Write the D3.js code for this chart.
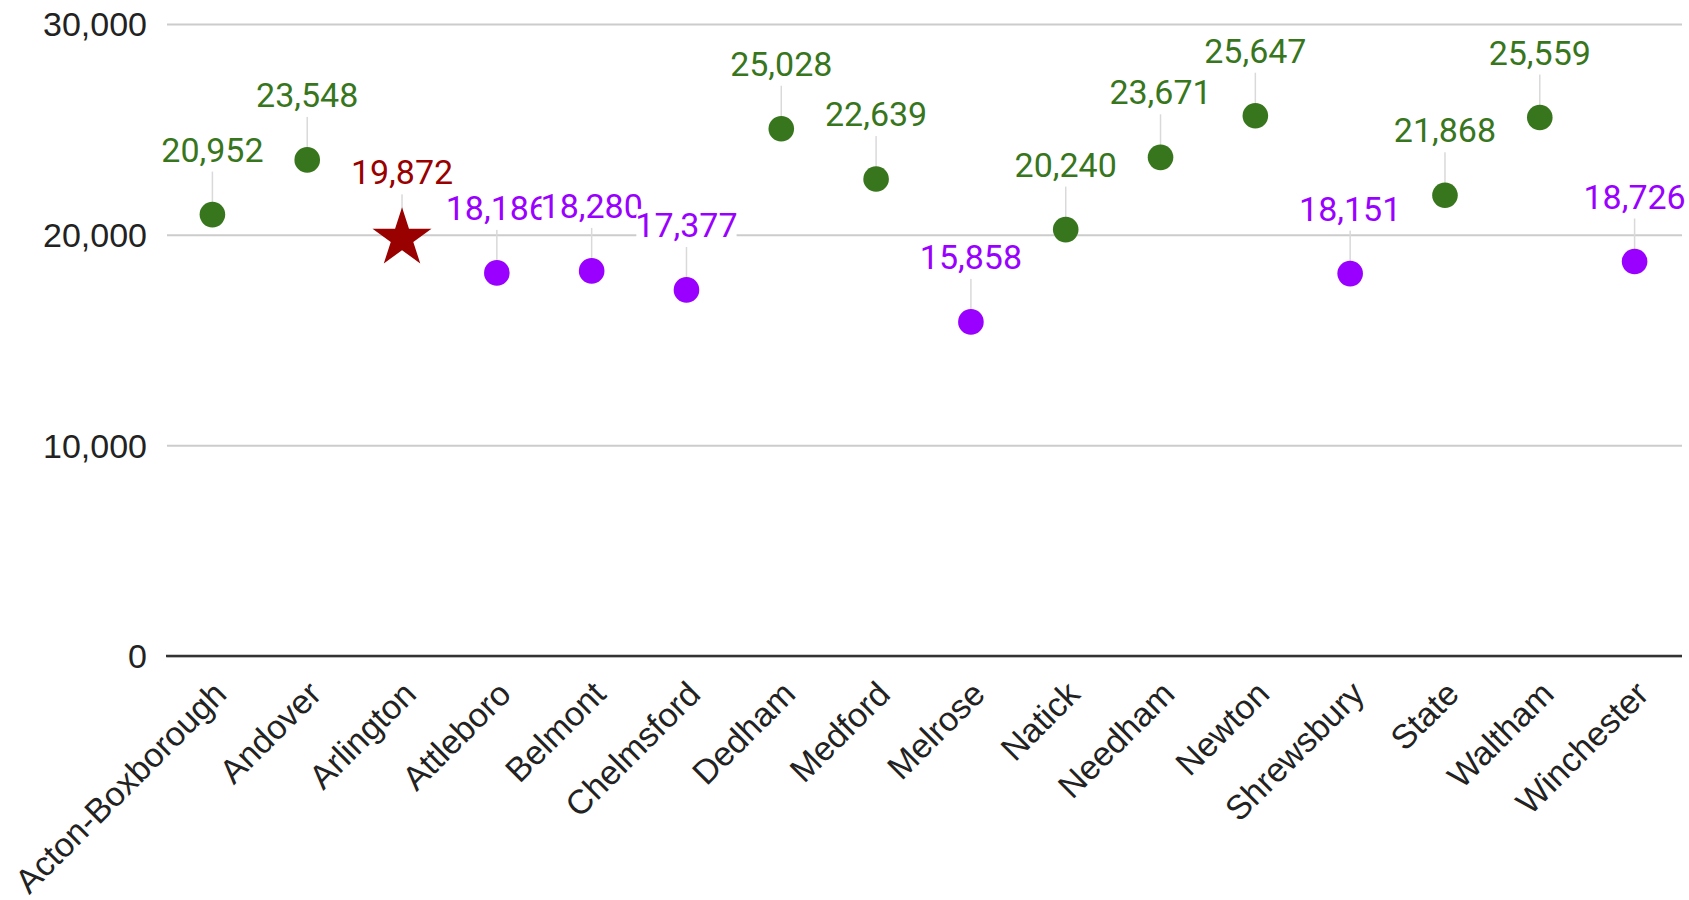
<!DOCTYPE html>
<html>
<head>
<meta charset="utf-8">
<script src="https://cdn.jsdelivr.net/npm/d3@7"></script>
<style>
  html, body { margin: 0; padding: 0; background: #fff; }
  svg { display: block; }
</style>
</head>
<body>
<svg id="chart" width="1689" height="900"></svg>
<script>
// Per-district values (dollars per pupil)
const districts = ["Acton-Boxborough", "Andover", "Arlington", "Attleboro", "Belmont", "Chelmsford",
  "Dedham", "Medford", "Melrose", "Natick", "Needham", "Newton", "Shrewsbury", "State", "Waltham", "Winchester"];
const values = [20952, 23548, 19872, 18186, 18280, 17377, 25028, 22639, 15858, 20240, 23671, 25647, 18151, 21868, 25559, 18726];
// "above" / "below" the highlighted district, "self" for the highlighted one
const groups = ["above", "above", "self", "below", "below", "below", "above", "above", "below", "above",
  "above", "above", "below", "above", "above", "below"];
const yTicks = [0, 10000, 20000, 30000];

const colors = { above: "#38761d", below: "#9900ff", self: "#990000" };

const svg = d3.select("#chart");
const W = 1689, H = 900;
const margin = { left: 165, right: 7, top: 24, bottom: 244 };

svg.append("rect").attr("width", W).attr("height", H).attr("fill", "#fff");

const x = d3.scaleBand().domain(districts).range([margin.left, W - margin.right]);
const y = d3.scaleLinear().domain([0, 30000]).range([H - margin.bottom, margin.top]);

// Gridlines and y-axis labels
const yAxis = d3.axisLeft(y).tickValues(yTicks).tickFormat(d3.format(","))
  .tickSize(-(W - margin.left - margin.right)).tickPadding(18);
const gy = svg.append("g").attr("transform", `translate(${margin.left},0)`).call(yAxis);
gy.select(".domain").remove();
gy.selectAll(".tick line").attr("stroke", "#cccccc").attr("stroke-width", 2)
  .attr("x1", 2);
gy.selectAll(".tick text").attr("font-family", "'Liberation Sans', Arial, sans-serif")
  .attr("font-size", 34).attr("fill", "#222").attr("dy", "0.35em");

// Baseline
svg.append("line")
  .attr("x1", margin.left + 1).attr("x2", W - margin.right)
  .attr("y1", y(0)).attr("y2", y(0))
  .attr("stroke", "#333").attr("stroke-width", 2.5);

// x-axis labels, slanted
const xAxis = d3.axisBottom(x).tickSize(0).tickPadding(0);
const gx = svg.append("g").attr("transform", `translate(0,${y(0)})`).call(xAxis);
gx.select(".domain").remove();
gx.selectAll(".tick text")
  .attr("font-family", "'Liberation Sans', Arial, sans-serif")
  .attr("font-size", 34).attr("fill", "#222")
  .attr("text-anchor", "end")
  .attr("dy", null).attr("y", 0)
  .attr("transform", "translate(16,40) rotate(-45)");

const data = districts.map((d, i) => ({ name: d, value: values[i], group: groups[i] }));
const cx = d => x(d.name) + x.bandwidth() / 2;
const labelGap = 53;

// Leader lines from label to point
svg.append("g").selectAll("line").data(data).join("line")
  .attr("x1", cx).attr("x2", cx)
  .attr("y1", d => y(d.value) - labelGap + 7)
  .attr("y2", d => y(d.value))
  .attr("stroke", "#d9d9d9").attr("stroke-width", 1.5);

// Points: circles, and a star for the highlighted district
const marks = svg.append("g");
marks.selectAll("circle").data(data.filter(d => d.group !== "self")).join("circle")
  .attr("cx", cx).attr("cy", d => y(d.value)).attr("r", 12.8)
  .attr("fill", d => colors[d.group]);
marks.selectAll("path").data(data.filter(d => d.group === "self")).join("path")
  .attr("d", d3.symbol().type(d3.symbolStar).size(1080))
  .attr("transform", d => `translate(${cx(d)},${y(d.value) + 1})`)
  .attr("fill", colors.self);

// Value labels with white backing, each drawn over the previous one
const fmt = d3.format(",");
const labels = svg.append("g").selectAll("g").data(data).join("g");
labels.each(function (d) {
  const g = d3.select(this);
  const rect = g.append("rect").attr("fill", "#fff");
  const t = g.append("text")
    .attr("x", cx(d)).attr("y", y(d.value) - labelGap)
    .attr("text-anchor", "middle")
    .attr("font-family", "Roboto, sans-serif").attr("font-size", 34)
    .attr("fill", colors[d.group])
    .text(fmt(d.value));
  const b = t.node().getBBox();
  rect.attr("x", b.x + 1).attr("y", b.y + 4).attr("width", b.width - 2).attr("height", b.height - 2);
});
</script>
</body>
</html>
